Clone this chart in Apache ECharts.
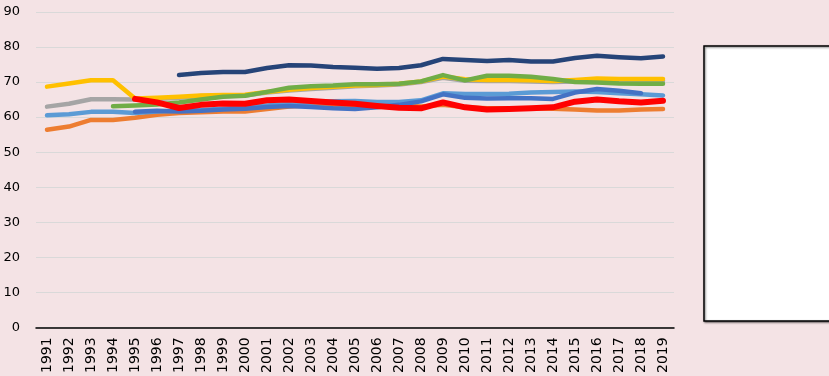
<!DOCTYPE html>
<html>
<head>
<meta charset="utf-8">
<script src="https://cdn.jsdelivr.net/npm/echarts@6/dist/echarts.min.js"></script>
<style>
  html, body { margin: 0; padding: 0; background: #F4E3E5; }
  #chart { width: 829px; height: 376px; }
</style>
</head>
<body>
<div id="chart"></div>
<script>
// categories
const years = [];
for (let y = 1991; y <= 2019; y++) years.push(String(y));

// series values (null = no data)
const orange = [56.4, 57.3, 59.2, 59.2, 59.8, 60.7, 61.2, 61.4, 61.6, 61.6, 62.3, 63.0, 63.4, 63.6, 63.5, 63.4, 63.3, 63.0, 63.5, 62.8, 62.5, 62.5, 62.5, 62.4, 62.2, 61.9, 61.9, 62.2, 62.3];
const lightBlue = [60.5, 60.8, 61.5, 61.5, 61.2, 61.6, 61.8, 62.0, 62.4, 62.8, 63.3, 63.8, 64.2, 64.5, 64.6, 64.3, 64.3, 64.8, 66.8, 66.6, 66.6, 66.7, 67.0, 67.2, 67.3, 67.2, 66.8, 66.5, 66.2];
const gray = [63.0, 63.8, 65.1, 65.1, 65.0, 65.2, 65.5, 66.0, 66.0, 66.2, 67.0, 67.6, 68.0, 68.4, 68.8, 69.0, 69.3, 70.0, 71.2, 70.4, 70.3, 70.3, 70.2, 70.0, 70.2, 70.5, 70.4, 70.4, 70.4];
const yellow = [68.7, 69.6, 70.5, 70.5, 65.3, 65.5, 65.8, 66.2, 66.3, 66.4, 67.2, 67.8, 68.3, 68.7, 69.0, 69.2, 69.5, 70.2, 71.6, 70.8, 70.6, 70.6, 70.5, 70.3, 70.6, 71.0, 70.9, 70.9, 70.9];
const green = [null, null, null, 63.1, 63.3, 63.6, 64.2, 65.0, 65.8, 66.1, 67.2, 68.4, 68.8, 69.0, 69.4, 69.4, 69.5, 70.2, 72.0, 70.5, 71.8, 71.8, 71.5, 70.9, 70.0, 69.9, 69.6, 69.5, 69.5];
const midBlue = [null, null, null, null, 61.5, 61.8, 61.6, 61.8, 62.2, 62.4, 62.9, 63.2, 62.9, 62.5, 62.3, 62.8, 63.5, 64.5, 66.5, 65.5, 65.3, 65.4, 65.4, 65.2, 67.0, 68.0, 67.5, 66.8, null];
const navy = [null, null, null, null, null, null, 72.0, 72.6, 72.9, 72.9, 74.0, 74.8, 74.7, 74.3, 74.1, 73.8, 74.0, 74.8, 76.6, 76.3, 76.0, 76.3, 75.9, 75.9, 76.9, 77.5, 77.1, 76.8, 77.3];
const red = [null, null, null, null, 65.2, 64.2, 62.6, 63.5, 63.9, 63.8, 64.8, 65.0, 64.6, 64.2, 63.8, 63.2, 62.7, 62.5, 64.2, 62.8, 62.2, 62.3, 62.5, 62.8, 64.4, 65.0, 64.5, 64.2, 64.7];

const chart = echarts.init(document.getElementById('chart'));

function line(data, color, width) {
  return {
    type: 'line',
    data: data,
    symbol: 'none',
    connectNulls: false,
    lineStyle: { color: color, width: width, cap: 'round', join: 'round' },
    itemStyle: { color: color }
  };
}

const option = {
  backgroundColor: '#F4E3E5',
  animation: false,
  grid: { left: 36, right: 155, top: 12, bottom: 48 },
  xAxis: {
    type: 'category',
    data: years,
    boundaryGap: true,
    axisLine: { show: true, lineStyle: { color: '#000', width: 1.5 } },
    axisTick: { show: false },
    axisLabel: {
      rotate: 90,
      margin: 10,
      interval: 0,
      color: '#000',
      fontSize: 14,
      fontFamily: 'DejaVu Sans'
    }
  },
  yAxis: {
    type: 'value',
    min: 0,
    max: 90,
    interval: 10,
    axisLine: { show: false },
    axisTick: { show: false },
    splitLine: { lineStyle: { color: '#D9D9D9', width: 1 } },
    axisLabel: { color: '#000', fontSize: 13, margin: 16, fontFamily: 'DejaVu Sans' }
  },
  series: [
    line(orange, '#ED7D31', 4.5),
    line(lightBlue, '#5B9BD5', 4.5),
    line(gray, '#A5A5A5', 4.5),
    line(yellow, '#FFC000', 4.5),
    line(green, '#70AD47', 4.5),
    line(midBlue, '#4472C4', 4.5),
    line(navy, '#264478', 4.5),
    line(red, '#FF0000', 6)
  ],
  graphic: [
    {
      type: 'rect',
      shape: { x: 704, y: 46, width: 140, height: 275 },
      style: {
        fill: '#FFFFFF',
        stroke: '#000',
        lineWidth: 1.5,
        shadowBlur: 2,
        shadowOffsetX: 1,
        shadowOffsetY: 1,
        shadowColor: 'rgba(0,0,0,0.5)'
      }
    }
  ]
};

chart.setOption(option);
</script>
</body>
</html>
